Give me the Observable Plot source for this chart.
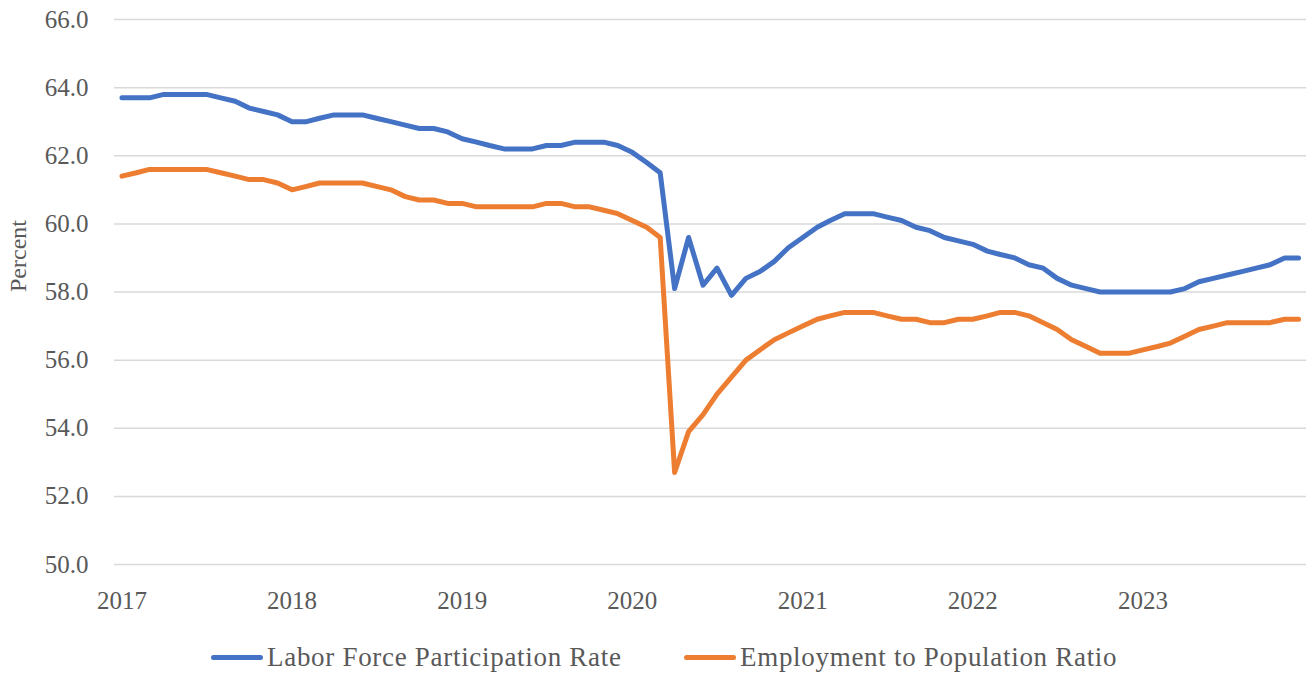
<!DOCTYPE html>
<html>
<head>
<meta charset="utf-8">
<script src="https://cdn.jsdelivr.net/npm/d3@7"></script>
<script src="https://cdn.jsdelivr.net/npm/@observablehq/plot@0.6"></script>
<style>
  html, body { margin: 0; padding: 0; background: #fff; }
  #wrap { position: relative; width: 1306px; height: 675px; overflow: hidden; }
  .leg { position: absolute; top: 640px; height: 34px; display: flex; align-items: center;
         font-family: "Liberation Serif", "Times New Roman", serif; font-size: 27px; letter-spacing: 0.7px; color: #595959; white-space: nowrap; }
  .sw { display: inline-block; width: 52px; height: 5px; border-radius: 3px; margin-right: 4px; }
</style>
</head>
<body>
<div id="wrap">
  <div id="chart"></div>
</div>
<script>
// Year tick labels
const years = ["2017", "2018", "2019", "2020", "2021", "2022", "2023"];
// Y tick values
const yTicks = [50, 52, 54, 56, 58, 60, 62, 64, 66];
// Series names & colors
const seriesNames = ["Labor Force Participation Rate", "Employment to Population Ratio"];
const seriesColors = ["#4472C4", "#ED7D31"];
// Monthly values, Jan 2017 – Dec 2023
const lfpr = [
  63.7, 63.7, 63.7, 63.8, 63.8, 63.8, 63.8, 63.7, 63.6, 63.4, 63.3, 63.2,
  63.0, 63.0, 63.1, 63.2, 63.2, 63.2, 63.1, 63.0, 62.9, 62.8, 62.8, 62.7,
  62.5, 62.4, 62.3, 62.2, 62.2, 62.2, 62.3, 62.3, 62.4, 62.4, 62.4, 62.3,
  62.1, 61.8, 61.5, 58.1, 59.6, 58.2, 58.7, 57.9, 58.4, 58.6, 58.9, 59.3,
  59.6, 59.9, 60.1, 60.3, 60.3, 60.3, 60.2, 60.1, 59.9, 59.8, 59.6, 59.5,
  59.4, 59.2, 59.1, 59.0, 58.8, 58.7, 58.4, 58.2, 58.1, 58.0, 58.0, 58.0,
  58.0, 58.0, 58.0, 58.1, 58.3, 58.4, 58.5, 58.6, 58.7, 58.8, 59.0, 59.0
];
const epop = [
  61.4, 61.5, 61.6, 61.6, 61.6, 61.6, 61.6, 61.5, 61.4, 61.3, 61.3, 61.2,
  61.0, 61.1, 61.2, 61.2, 61.2, 61.2, 61.1, 61.0, 60.8, 60.7, 60.7, 60.6,
  60.6, 60.5, 60.5, 60.5, 60.5, 60.5, 60.6, 60.6, 60.5, 60.5, 60.4, 60.3,
  60.1, 59.9, 59.6, 52.7, 53.9, 54.4, 55.0, 55.5, 56.0, 56.3, 56.6, 56.8,
  57.0, 57.2, 57.3, 57.4, 57.4, 57.4, 57.3, 57.2, 57.2, 57.1, 57.1, 57.2,
  57.2, 57.3, 57.4, 57.4, 57.3, 57.1, 56.9, 56.6, 56.4, 56.2, 56.2, 56.2,
  56.3, 56.4, 56.5, 56.7, 56.9, 57.0, 57.1, 57.1, 57.1, 57.1, 57.2, 57.2
];

const months = d3.utcMonths(new Date(Date.UTC(2017, 0, 1)), new Date(Date.UTC(2024, 0, 1)));
const yearDates = years.map(y => new Date(Date.UTC(+y, 0, 1)));
const rows = [];
[lfpr, epop].forEach((vals, s) => vals.forEach((v, i) => rows.push({date: months[i], value: v, series: seriesNames[s]})));

const font = "'Liberation Serif', 'Times New Roman', serif";
const chart = Plot.plot({
  width: 1306,
  height: 630,
  marginLeft: 114,
  marginRight: 0,
  marginTop: 19,
  marginBottom: 66,
  style: { fontFamily: font, fontSize: "25px", color: "#595959", background: "#fff", overflow: "visible" },
  x: { type: "utc", domain: [new Date(Date.UTC(2016, 11, 16)), new Date(Date.UTC(2023, 11, 18))] },
  y: { domain: [50, 66] },
  color: { domain: seriesNames, range: seriesColors },
  marks: [
    Plot.gridY(yTicks, { stroke: "#d9d9d9", strokeOpacity: 1, strokeWidth: 1.5 }),
    Plot.axisY(yTicks, { tickSize: 0, tickPadding: 26, tickFormat: d => d.toFixed(1), fill: "#595959", label: null, fontSize: 25, fontFamily: font }),
    Plot.axisX(yearDates, { tickSize: 0, tickPadding: 27, tickFormat: d => d3.utcFormat("%Y")(d), fill: "#595959", label: null, fontSize: 25, fontFamily: font }),
    Plot.text(["Percent"], { frameAnchor: "left", dx: -96, rotate: -90, fontSize: 24, fill: "#595959", fontFamily: font }),
    Plot.line(rows, { x: "date", y: "value", z: "series", stroke: "series", strokeWidth: 5, strokeLinejoin: "round", strokeLinecap: "round" })
  ]
});
document.getElementById("chart").appendChild(chart);

const wrap = document.getElementById("wrap");
const lefts = [211, 684];
seriesNames.forEach((name, i) => {
  const d = document.createElement("div");
  d.className = "leg";
  d.style.left = lefts[i] + "px";
  d.innerHTML = `<span class="sw" style="background:${seriesColors[i]}"></span><span>${name}</span>`;
  wrap.appendChild(d);
});
</script>
</body>
</html>
